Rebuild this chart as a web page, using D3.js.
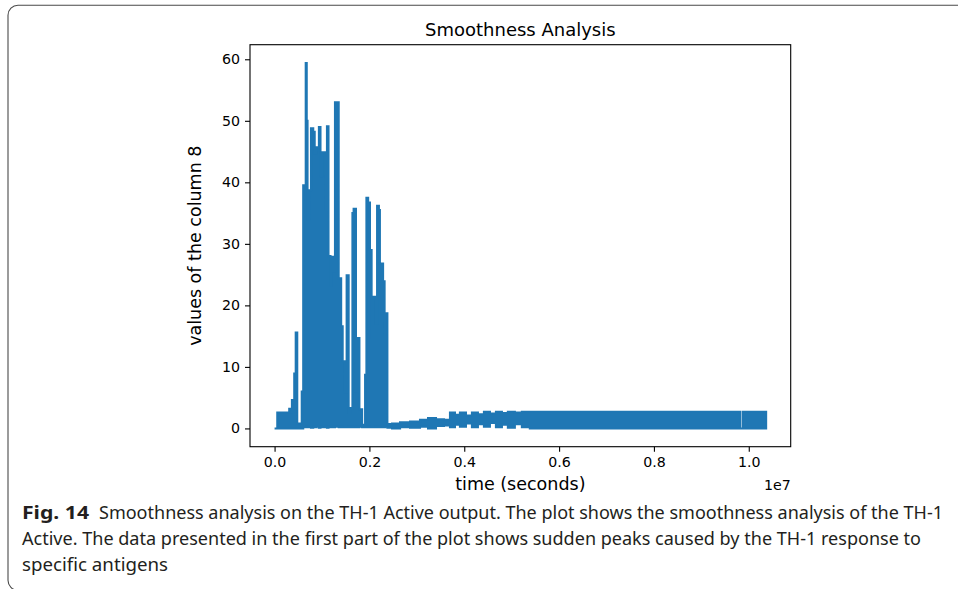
<!DOCTYPE html>
<html>
<head>
<meta charset="utf-8">
<script src="https://cdn.jsdelivr.net/npm/d3@7"></script>
<style>
  body { margin: 0; background: #fff; }
  svg { display: block; }
  .tick text { font-family: "DejaVu Sans", sans-serif; font-size: 14.2px; fill: #000; }
  .tick line { stroke: #000; stroke-width: 1.1; }
</style>
</head>
<body>
<svg id="fig" width="958" height="589"></svg>
<script>
// envelope of the column 8 trace (step values from each time on)
const timeSec = [0, 57000, 309000, 345000, 366000, 415000, 446000, 478000, 573000, 604000,
  657000, 678000, 695000, 737000, 768000, 815000, 846000, 888000, 935000, 968000,
  1000000, 1078000, 1105000, 1137000, 1179000, 1204000, 1242000, 1274000, 1352000, 1404000,
  1436000, 1484000, 1520000, 1562000, 1604000, 1642000, 1667000, 1716000, 1745000, 1789000,
  1846000, 1909000, 1937000, 1973000, 2011000, 2046000, 2074000, 2126000, 2162000, 2200000,
  2221000, 2288000, 2320000, 2331000, 2379000, 2478000, 2646000, 2857000, 3067000, 3236000,
  3404000, 3573000, 3699000, 3804000, 3909000, 4036000, 4162000, 4288000, 4415000, 4541000,
  4668000, 4794000, 4920000, 5067000, 5215000, 5383000, 9819000, 9874000, 10366000];
const upperVal = [0, 2.6, 3.2, 2.6, 4.6, 8.9, 15.6, 0.8, 6.0, 39.5,
  59.4, 50.0, 34.0, 38.7, 48.8, 48.2, 44.7, 45.7, 49.0, 40.9,
  44.9, 35.5, 49.1, 28.0, 23.3, 27.9, 25.5, 53.0, 24.4, 16.6,
  10.9, 5.8, 24.9, 2.5, 3.3, 35.0, 35.7, 6.0, 14.7, 3.1,
  0.6, 8.7, 37.5, 36.7, 29.0, 14.7, 21.4, 17.1, 36.2, 35.5,
  26.8, 23.9, 15.2, 18.7, 0.7, 0.8, 1.0, 1.1, 1.4, 1.7,
  1.5, 1.4, 2.6, 2.2, 2.6, 2.1, 2.6, 2.3, 2.7, 2.4,
  2.7, 2.5, 2.7, 2.6, 2.7, 2.7, 0.0, 2.7, 2.7];
const lowerVal = [0, 0, 0, 0, 0, 0, 0, 0, 0, 0.2,
  0.2, 0.3, 0.2, 0.4, 0.1, 0.3, 0.2, 0.4, 0.1, 0.3,
  0.2, 0.3, 0.1, 0.3, 0.2, 0.4, 0.2, 0.3, 0.2, 0.3,
  0.2, 0.4, 0.2, 0.3, 0.2, 0.3, 0.2, 0.3, 0.2, 0.3,
  0.2, 0.3, 0.2, 0.3, 0.2, 0.4, 0.2, 0.3, 0.2, 0.3,
  0.2, 0.4, 0.2, 0.3, 0.1, 0.0, 0.2, 0.1, 0.3, 0.0,
  0.4, 0.5, 0.2, 0.6, 0.3, 0.8, 0.2, 0.7, 0.3, 0.9,
  0.2, 0.6, 0.1, 0.7, 0.2, 0.0, 0.0, 0.0, 0.0];

const xTicks = [0, 2e6, 4e6, 6e6, 8e6, 1e7];
const xTickLabels = ["0.0", "0.2", "0.4", "0.6", "0.8", "1.0"];
const yTicks = [0, 10, 20, 30, 40, 50, 60];

const captionLines = [
  "Smoothness analysis on the TH-1 Active output. The plot shows the smoothness analysis of the TH-1",
  "Active. The data presented in the first part of the plot shows sudden peaks caused by the TH-1 response to",
  "specific antigens"
];

let svg = d3.select("#fig");
let plotL = 250, plotR = 790.7, plotT = 44.7, plotB = 446.7;

// matplotlib style 5% margins
let xMax = d3.max(timeSec), yMax = d3.max(upperVal);
let x = d3.scaleLinear().domain([-0.05 * xMax, 1.05 * xMax]).range([plotL, plotR]);
let y = d3.scaleLinear().domain([-0.05 * yMax, 1.05 * yMax]).range([plotB, plotT]);

let rows = timeSec.map((t, i) => ({t: t, hi: upperVal[i], lo: lowerVal[i]}));

// outer frame of the figure
svg.append("rect")
   .attr("x", 8).attr("y", 5.3)
   .attr("width", 1000).attr("height", 585)
   .attr("rx", 10)
   .attr("fill", "none")
   .attr("stroke", "#4a4a4a")
   .attr("stroke-width", 1.1);

svg.append("clipPath").attr("id", "plotClip")
   .append("rect")
   .attr("x", plotL).attr("y", plotT)
   .attr("width", plotR - plotL).attr("height", plotB - plotT);

let band = d3.area()
             .x(d => x(d.t))
             .y0(d => y(d.lo))
             .y1(d => y(d.hi))
             .curve(d3.curveStepAfter);

svg.append("path")
   .datum(rows)
   .attr("clip-path", "url(#plotClip)")
   .attr("d", band)
   .attr("fill", "#1f77b4")
   .attr("stroke", "#1f77b4")
   .attr("stroke-width", 2.1)
   .attr("stroke-linejoin", "miter");

// axes
let xAxis = d3.axisBottom(x)
              .tickValues(xTicks)
              .tickFormat((d, i) => xTickLabels[i])
              .tickSize(5).tickPadding(5).tickSizeOuter(0);
svg.append("g")
   .attr("transform", `translate(0,${plotB})`)
   .call(xAxis)
   .call(g => g.select(".domain").remove());

let yAxis = d3.axisLeft(y)
              .tickValues(yTicks)
              .tickSize(5).tickPadding(5).tickSizeOuter(0);
svg.append("g")
   .attr("transform", `translate(${plotL},0)`)
   .call(yAxis)
   .call(g => g.select(".domain").remove());

svg.append("rect")
   .attr("x", plotL).attr("y", plotT)
   .attr("width", plotR - plotL).attr("height", plotB - plotT)
   .attr("fill", "none")
   .attr("stroke", "#000")
   .attr("stroke-width", 1.1);

// texts
svg.append("text")
   .attr("x", (plotL + plotR) / 2).attr("y", 36)
   .attr("text-anchor", "middle")
   .style("font-family", "DejaVu Sans")
   .style("font-size", "18px")
   .text("Smoothness Analysis");

svg.append("text")
   .attr("x", (plotL + plotR) / 2).attr("y", 490)
   .attr("text-anchor", "middle")
   .style("font-family", "DejaVu Sans")
   .style("font-size", "17.5px")
   .text("time (seconds)");

svg.append("text")
   .attr("transform", `translate(201,${(plotT + plotB) / 2}) rotate(-90)`)
   .attr("text-anchor", "middle")
   .style("font-family", "DejaVu Sans")
   .style("font-size", "17.5px")
   .text("values of the column 8");

svg.append("text")
   .attr("x", plotR).attr("y", 490)
   .attr("text-anchor", "end")
   .style("font-family", "DejaVu Sans")
   .style("font-size", "14.2px")
   .text("1e7");

// caption
svg.append("text")
   .attr("x", 22).attr("y", 519)
   .attr("textLength", 67).attr("lengthAdjust", "spacingAndGlyphs")
   .style("font-family", "Noto Sans")
   .style("font-weight", "bold")
   .style("font-size", "17.5px")
   .attr("fill", "#231f20")
   .text("Fig. 14");

let capX = [99, 22, 22];
let capW = [844, 899, 146];
let capY = [519, 545, 571];
captionLines.forEach(function(line, i){
  svg.append("text")
     .attr("x", capX[i]).attr("y", capY[i])
     .attr("textLength", capW[i]).attr("lengthAdjust", "spacingAndGlyphs")
     .style("font-family", "Noto Sans")
     .style("font-size", "17.5px")
     .attr("fill", "#231f20")
     .text(line);
});
</script>
</body>
</html>
